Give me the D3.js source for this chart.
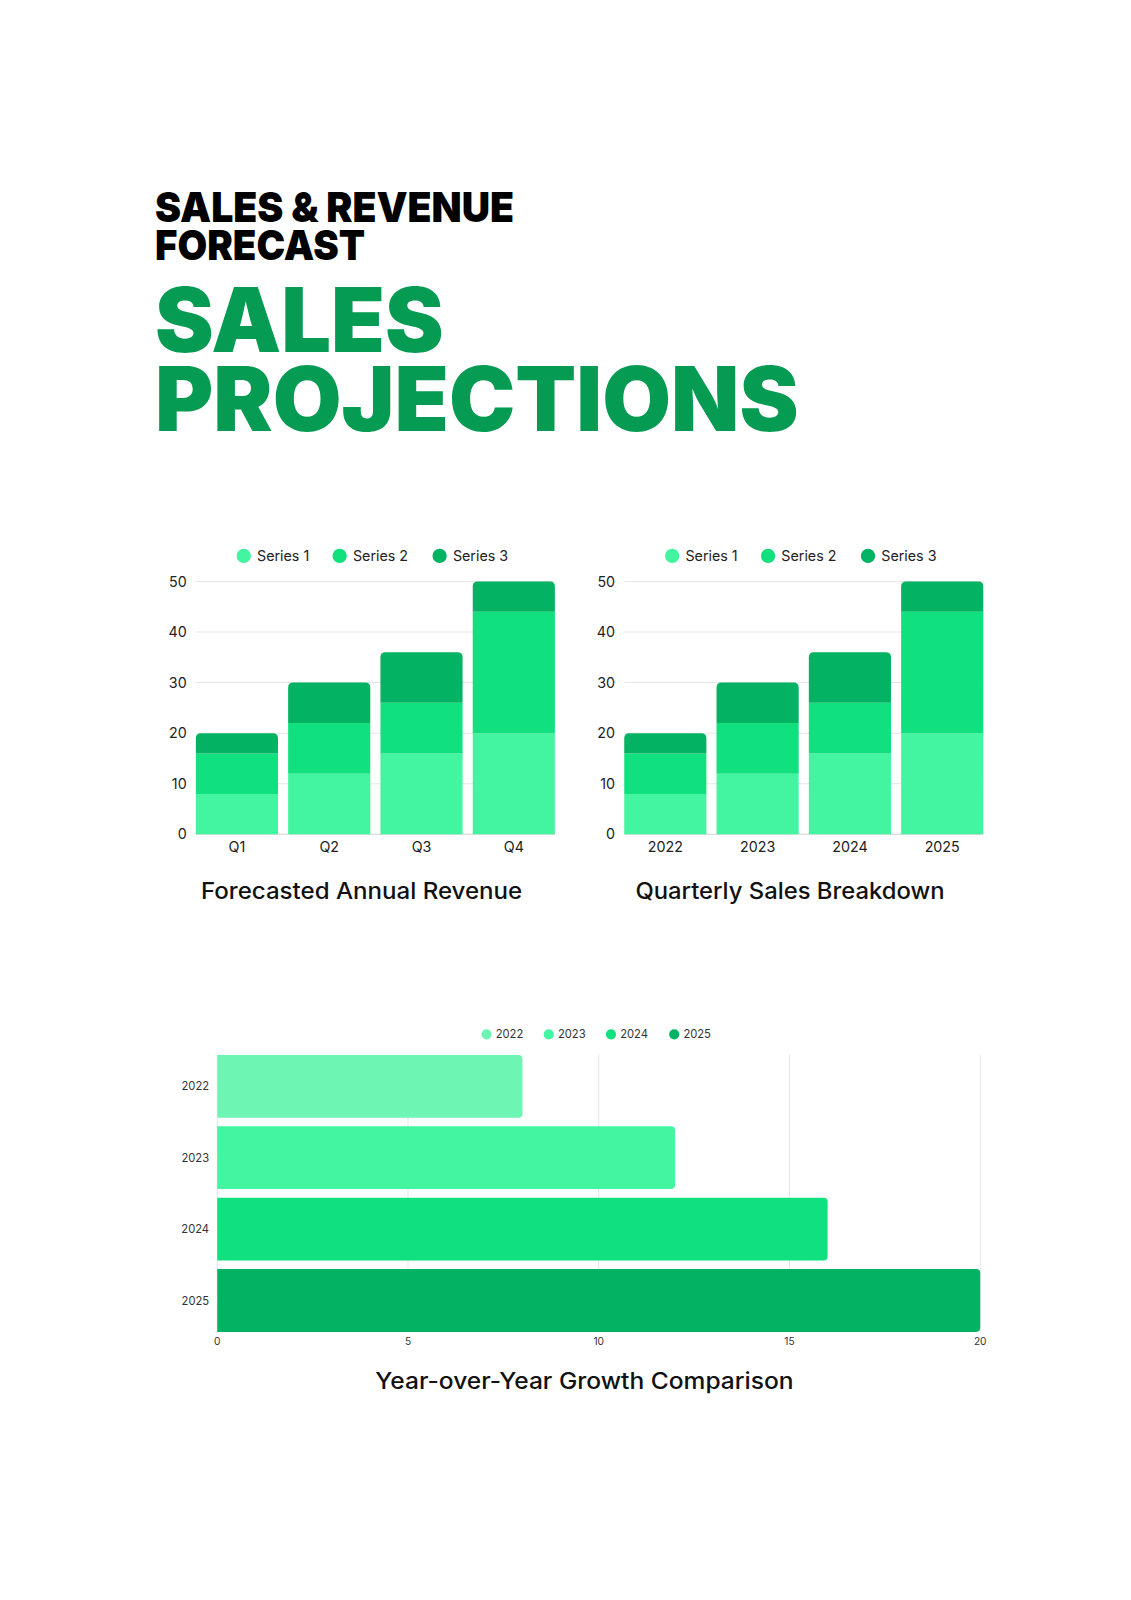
<!DOCTYPE html>
<html>
<head>
<meta charset="utf-8">
<script src="https://cdn.jsdelivr.net/npm/d3@7"></script>
<style>
  body { margin: 0; background: #fff; }
  svg { display: block; font-family: Inter, "Noto Sans", sans-serif; }
</style>
</head>
<body>
<svg id="page" width="1131" height="1600"></svg>
<script>
var quarters = ["Q1", "Q2", "Q3", "Q4"];
var years = ["2022", "2023", "2024", "2025"];
var seriesNames = ["Series 1", "Series 2", "Series 3"];
var series1 = [8, 12, 16, 20];
var series2 = [8, 10, 10, 24];
var series3 = [4, 8, 10, 6];
var growth = [8, 12, 16, 20];
var yTicks = [0, 10, 20, 30, 40, 50];
var xTicks = [0, 5, 10, 15, 20];

var seriesColors = ["#43f5a0", "#10e07e", "#03b262"];
var yearColors = ["#6df5b4", "#43f5a0", "#10e07e", "#03b262"];

// layout was measured on a 0.98 preview of the page, so scale it back up
var svg = d3.select("#page").append("g").attr("transform", "scale(1.02)");

// heading: two text blocks, each with two lines
function heading(lines, size, color) {
  var t = svg.append("text")
    .attr("font-family", "Inter, sans-serif").attr("font-weight", 900)
    .attr("font-size", size).attr("fill", color);
  lines.forEach(function(d) {
    t.append("tspan")
      .attr("x", 152).attr("y", d.y)
      .attr("textLength", d.w)
      .attr("lengthAdjust", "spacingAndGlyphs")
      .text(d.t);
  });
}
heading([{ t: "SALES & REVENUE", y: 218, w: 352 }, { t: "FORECAST", y: 255, w: 206 }], 41, "#000");
heading([{ t: "SALES", y: 345, w: 283 }, { t: "PROJECTIONS", y: 423, w: 631 }], 87, "#069b52");

function topRounded(x, y, w, h, r) {
  return "M" + x + "," + (y + h) + "V" + (y + r) +
    "Q" + x + "," + y + " " + (x + r) + "," + y +
    "H" + (x + w - r) + "Q" + (x + w) + "," + y + " " + (x + w) + "," + (y + r) +
    "V" + (y + h) + "Z";
}

function rightRounded(x, y, w, h, r) {
  return "M" + x + "," + y + "H" + (x + w - r) +
    "Q" + (x + w) + "," + y + " " + (x + w) + "," + (y + r) +
    "V" + (y + h - r) + "Q" + (x + w) + "," + (y + h) + " " + (x + w - r) + "," + (y + h) +
    "H" + x + "Z";
}

var stackData = quarters.map(function(q, i) {
  return { s0: series1[i], s1: series2[i], s2: series3[i] };
});
var stacked = d3.stack().keys(["s0", "s1", "s2"])(stackData);

function stackChart(left, right, cats, title, titleX, titleW, legendX) {
  var g = svg.append("g");
  var y = d3.scaleLinear().domain([0, 50]).range([818, 570]);
  var x = d3.scaleBand().domain(cats).range([left, right]).paddingInner(0.11).paddingOuter(0);

  // grid
  g.selectAll(".grid").data(yTicks).enter().append("line")
    .attr("x1", left).attr("x2", right)
    .attr("y1", function(d) { return y(d); }).attr("y2", function(d) { return y(d); })
    .attr("stroke", function(d) { return d === 0 ? "#d0d0d0" : "#e6e6e6"; })
    .attr("stroke-width", 1);

  g.selectAll(".ylab").data(yTicks).enter().append("text")
    .attr("x", left - 9).attr("y", function(d) { return y(d) + 5; })
    .attr("text-anchor", "end").attr("font-size", 14).attr("fill", "#222")
    .text(function(d) { return d; });

  stacked.forEach(function(layer, li) {
    g.selectAll(".bar" + li).data(layer).enter().append("path")
      .attr("fill", seriesColors[li])
      .attr("d", function(d, i) {
        var x0 = x(cats[i]), w = x.bandwidth();
        var y0 = y(d[1]), h = y(d[0]) - y(d[1]);
        return li === 2 ? topRounded(x0, y0, w, h, 5) : "M" + x0 + "," + y0 + "h" + w + "v" + h + "h" + (-w) + "Z";
      });
  });

  g.selectAll(".xlab").data(cats).enter().append("text")
    .attr("x", function(d) { return x(d) + x.bandwidth() / 2; }).attr("y", 835)
    .attr("text-anchor", "middle").attr("font-size", 14).attr("fill", "#222")
    .text(function(d) { return d; });

  // legend
  var offs = [0, 94, 192];
  seriesNames.forEach(function(n, i) {
    g.append("circle").attr("cx", legendX + offs[i]).attr("cy", 545).attr("r", 7)
      .attr("fill", seriesColors[i]);
    g.append("text").attr("x", legendX + offs[i] + 13).attr("y", 550)
      .attr("font-size", 14).attr("fill", "#222").text(n);
  });

  g.append("text").attr("x", titleX - titleW / 2).attr("y", 881)
    .attr("font-size", 22).attr("font-weight", 500)
    .attr("textLength", titleW).attr("lengthAdjust", "spacingAndGlyphs")
    .attr("fill", "#111").text(title);
}

stackChart(192, 544, quarters, "Forecasted Annual Revenue", 354.5, 315, 239);
stackChart(612, 964, years, "Quarterly Sales Breakdown", 774.5, 303, 659);

// horizontal bar chart
var hb = svg.append("g");
var hx = d3.scaleLinear().domain([0, 20]).range([213, 961]);
var hy = d3.scaleBand().domain(years).range([1030, 1310]).paddingInner(0.12).paddingOuter(0.06);

hb.selectAll(".vgrid").data(xTicks).enter().append("line")
  .attr("x1", function(d) { return hx(d); }).attr("x2", function(d) { return hx(d); })
  .attr("y1", 1034).attr("y2", 1306)
  .attr("stroke", "#e6e6e6");

hb.selectAll(".hbar").data(growth).enter().append("path")
  .attr("fill", function(d, i) { return yearColors[i]; })
  .attr("d", function(d, i) {
    return rightRounded(hx(0), hy(years[i]), hx(d) - hx(0), hy.bandwidth(), 4);
  });

hb.selectAll(".hylab").data(years).enter().append("text")
  .attr("x", 205).attr("y", function(d) { return hy(d) + hy.bandwidth() / 2 + 4; })
  .attr("text-anchor", "end").attr("font-size", 11).attr("fill", "#333")
  .text(function(d) { return d; });

hb.selectAll(".hxlab").data(xTicks).enter().append("text")
  .attr("x", function(d) { return hx(d); }).attr("y", 1319)
  .attr("text-anchor", "middle").attr("font-size", 10).attr("fill", "#333")
  .text(function(d) { return d; });

var legOffs = [477, 538, 599, 661];
years.forEach(function(yr, i) {
  hb.append("circle").attr("cx", legOffs[i]).attr("cy", 1014).attr("r", 5)
    .attr("fill", yearColors[i]);
  hb.append("text").attr("x", legOffs[i] + 9).attr("y", 1018)
    .attr("font-size", 11).attr("fill", "#333").text(yr);
});

hb.append("text").attr("x", 573 - 205).attr("y", 1362)
  .attr("font-size", 22).attr("font-weight", 500)
  .attr("textLength", 410).attr("lengthAdjust", "spacingAndGlyphs")
  .attr("fill", "#111").text("Year-over-Year Growth Comparison");
</script>
</body>
</html>
